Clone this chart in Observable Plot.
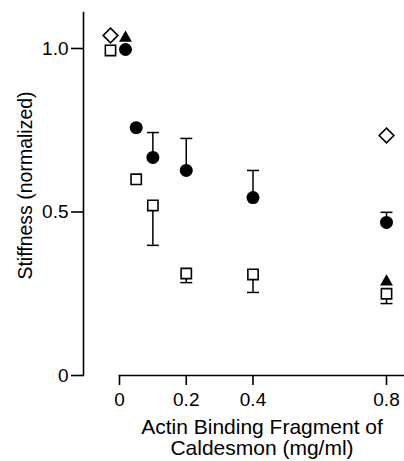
<!DOCTYPE html>
<html>
<head>
<meta charset="utf-8">
<script src="https://cdn.jsdelivr.net/npm/d3@7"></script>
<script src="https://cdn.jsdelivr.net/npm/@observablehq/plot@0.6"></script>
<style>
  html, body { margin: 0; padding: 0; background: white; }
</style>
</head>
<body>
<div id="chart"></div>
<script>
// Tick labels and titles
const xTicks = [0, 0.2, 0.4, 0.8];
const xTickLabels = ["0", "0.2", "0.4", "0.8"];
const yTicks = [0, 0.5, 1];
const yTickLabels = ["0", "0.5", "1.0"];
const xTitle = "Actin Binding Fragment of\nCaldesmon (mg/ml)";
const yTitle = "Stiffness (normalized)";

// Filled circles (with upward error bars)
const circleX = [0.018, 0.05, 0.1, 0.2, 0.4, 0.8];
const circleY = [0.997, 0.758, 0.667, 0.627, 0.544, 0.468];
const circleErrTop = [null, null, 0.743, 0.725, 0.627, 0.499];

// Open squares (with downward error bars)
const squareX = [-0.027, 0.05, 0.1, 0.2, 0.4, 0.8];
const squareY = [0.994, 0.6, 0.52, 0.312, 0.309, 0.25];
const squareErrBottom = [null, null, 0.398, 0.284, 0.254, 0.22];

// Open diamonds
const diamondX = [-0.027, 0.8];
const diamondY = [1.04, 0.734];

// Filled triangles
const triangleX = [0.018, 0.8];
const triangleY = [1.032, 0.287];

const circles = circleX.map((x, i) => ({x, y: circleY[i], err: circleErrTop[i]}));
const squares = squareX.map((x, i) => ({x, y: squareY[i], err: squareErrBottom[i]}));
const diamonds = diamondX.map((x, i) => ({x, y: diamondY[i]}));
const triangles = triangleX.map((x, i) => ({x, y: triangleY[i]}));
const circleErr = circles.filter(d => d.err != null);
const squareErr = squares.filter(d => d.err != null);

const capSymbol = {
  draw(context, size) {
    const r = Math.sqrt(size / Math.PI);
    context.moveTo(-r, 0);
    context.lineTo(r, 0);
  }
};

const chart = Plot.plot({
  width: 404,
  height: 461,
  marginLeft: 119,
  marginRight: 0,
  marginTop: 12,
  marginBottom: 86,
  style: {fontFamily: "'Liberation Sans', Arial, Helvetica, sans-serif", fontSize: "19px", color: "black", background: "white"},
  x: {domain: [0, 0.8], range: [119, 386]},
  y: {domain: [0, 1], range: [375, 48]},
  marks: [
    Plot.frame({anchor: "left", dx: -36, stroke: "black", strokeWidth: 1.6}),
    Plot.frame({anchor: "bottom", stroke: "black", strokeWidth: 1.6}),
    Plot.axisY(yTicks, {anchor: "left", dx: -36, tickSize: 12, tickPadding: 3, strokeWidth: 1.6,
      tickFormat: d => yTickLabels[yTicks.indexOf(d)], label: null, fontSize: 19}),
    Plot.axisX(xTicks, {anchor: "bottom", tickSize: 10, tickPadding: 7, strokeWidth: 1.6,
      tickFormat: d => xTickLabels[xTicks.indexOf(d)], label: null, fontSize: 19}),
    Plot.text([yTitle], {frameAnchor: "left", textAnchor: "middle", lineAnchor: "middle", rotate: -90, dx: -93.5, dy: -8.5, fontSize: 19.5, fill: "black"}),
    Plot.text([xTitle], {frameAnchor: "bottom", textAnchor: "middle", lineAnchor: "top", dy: 44, lineHeight: 1.0, fontSize: 21, fill: "black"}),
    // error bars
    Plot.ruleX(circleErr, {x: "x", y1: "y", y2: "err", stroke: "black", strokeWidth: 1.5}),
    Plot.dot(circleErr, {x: "x", y: "err", symbol: capSymbol, r: 6, stroke: "black", strokeWidth: 1.5, fill: "none"}),
    Plot.ruleX(squareErr, {x: "x", y1: "y", y2: "err", stroke: "black", strokeWidth: 1.5}),
    Plot.dot(squareErr, {x: "x", y: "err", symbol: capSymbol, r: 6, stroke: "black", strokeWidth: 1.5, fill: "none"}),
    // symbols
    Plot.dot(triangles, {x: "x", y: "y", symbol: "triangle", r: 4.8, fill: "black", stroke: "none"}),
    Plot.dot(circles, {x: "x", y: "y", symbol: "circle", r: 6.5, fill: "black", stroke: "none"}),
    Plot.dot(squares, {x: "x", y: "y", symbol: "square", r: 5.8, fill: "white", stroke: "black", strokeWidth: 1.6}),
    Plot.dot(diamonds, {x: "x", y: "y", symbol: "diamond2", r: 6.6, fill: "white", stroke: "black", strokeWidth: 1.6})
  ]
});
document.getElementById("chart").appendChild(chart);
</script>
</body>
</html>
